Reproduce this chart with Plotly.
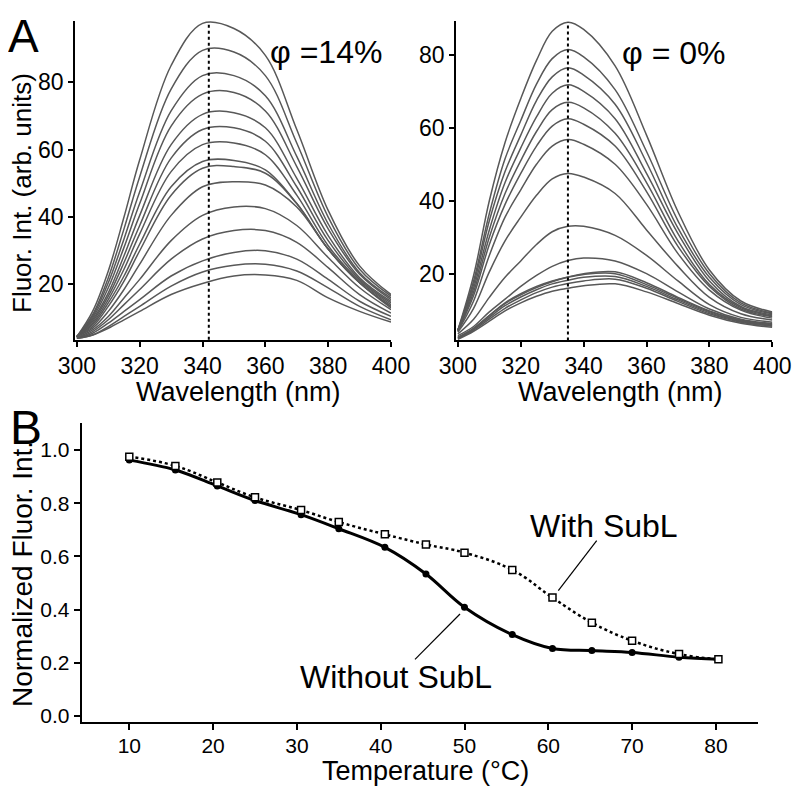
import plotly.graph_objects as go

FONT = "Liberation Sans, Arial, Helvetica, sans-serif"
# The page body has an 8px margin: the figure occupies viewport pixels 8..800 x 8..788
OFF = 8
FW, FH = 792, 780

# ---------------- Panel A data ----------------
wl_left = [300, 305, 310, 315, 320, 330, 340, 350, 360, 370, 380, 390, 400]
spectra_left = [
    [4.5, 12, 24, 40, 57, 85, 97.5, 96, 88, 66, 42, 25.5, 17],
    [4.5, 11, 22, 36.5, 52, 78, 89.5, 89, 82, 62, 40, 24.5, 16.5],
    [4.5, 10.5, 20.5, 33.5, 47.5, 71.5, 82, 82, 76, 58, 38, 23.5, 16],
    [4.5, 10, 19, 31, 44, 67, 76.5, 77, 71.5, 55, 36.5, 23, 15.5],
    [4.5, 9.5, 17.5, 28.5, 40.5, 61.5, 70.5, 71, 66.5, 51.5, 34.5, 22, 15],
    [4.5, 9, 16.5, 26.5, 37.5, 57.5, 66, 66.5, 62.5, 49, 33, 21.5, 14.5],
    [4.5, 8.5, 15.5, 24.5, 35, 53.5, 61.5, 62, 58.5, 46.5, 31.5, 21, 14],
    [4.5, 8, 14.5, 22.5, 32, 49, 56.5, 56.8, 54, 44, 30.5, 20.5, 13.5],
    [4.5, 7.5, 13.5, 21, 30, 46.5, 54.5, 55, 53, 44, 30.5, 20.5, 13.5],
    [4.5, 7, 12, 18.5, 26, 40.5, 49, 50.5, 49.5, 43, 30.5, 20.5, 13],
    [4.2, 6.5, 10.5, 16, 21.5, 33, 40.5, 43, 42.5, 37.5, 28, 19, 12.5],
    [4, 6, 9.5, 14, 18.5, 27.5, 33.5, 36, 36, 32.5, 25, 17, 11.5],
    [4, 5.5, 8.5, 12, 15.5, 22.5, 27, 29.5, 30, 27.5, 21.5, 15, 10.5],
    [4, 5, 7.5, 10.5, 13.5, 19.5, 23.7, 25.7, 26, 24, 19, 13.5, 9.5],
    [4, 5, 7, 9.5, 12, 17, 20.3, 22.5, 22.8, 21.2, 16, 12, 8.8],
]
peak_wl_left = 342
peak_val_left = 98

wl_right = [300, 305, 310, 315, 320, 325, 330, 335, 340, 350, 360, 370, 380, 390, 400]
spectra_right = [
    [4.5, 19.5, 40, 56, 68, 78.5, 86.5, 89, 87, 77, 58, 37, 21, 12.5, 9.5],
    [4.5, 18, 36.5, 51.5, 62, 72, 79, 81.5, 79.5, 70.5, 53.5, 34.5, 20, 12, 9.2],
    [4.5, 17, 34.5, 48, 58, 67.5, 74, 76.5, 74.5, 66.5, 50.5, 32.5, 19, 11.5, 9],
    [4.5, 16, 32, 45, 54.5, 63, 69.5, 71.8, 70, 62.5, 47.5, 31, 18, 11, 8.7],
    [4.5, 15, 30, 42, 51, 59, 65, 67, 65.5, 58.5, 45, 29, 17, 10.7, 8.4],
    [4.3, 14, 28, 39, 47.5, 55, 60.5, 62.5, 61, 55, 42.5, 27.5, 16.5, 10.3, 8.2],
    [4.2, 12.5, 25, 35.5, 43, 50, 55, 56.8, 55.5, 50, 39, 25.5, 15.5, 10, 7.8],
    [4, 10.5, 20.5, 29, 35.5, 41.5, 46, 47.5, 46.5, 42, 32, 22, 13.5, 9, 7.3],
    [3.5, 7.5, 13.5, 19, 23.5, 28, 31.5, 33, 33, 30.5, 25, 18, 11.5, 8, 6.7],
    [3, 5.5, 9.5, 13, 16.5, 19.5, 22, 23.6, 24.3, 23.5, 20, 15, 10.3, 7.5, 6.3],
    [2.5, 5, 8.5, 12, 14.5, 16.5, 18, 19.1, 20, 20.5, 17.5, 13.5, 9.8, 7.3, 6.2],
    [2.5, 5, 8.5, 11.8, 14.2, 16.2, 17.8, 19, 19.8, 20, 17, 13.2, 9.6, 7.1, 6],
    [2.3, 4.8, 8, 11.2, 13.6, 15.6, 17.2, 18.2, 19, 19.2, 16.5, 12.8, 9.3, 6.9, 5.8],
    [2.2, 4.5, 7.5, 10.5, 12.8, 14.8, 16.3, 17.3, 18, 18.5, 16, 12.4, 9, 6.7, 5.6],
    [2, 4.2, 7, 9.8, 12, 13.8, 15.2, 16, 16.7, 17.2, 15, 11.8, 8.6, 6.4, 5.3],
]
peak_wl_right = 335
peak_val_right = 89

wl_ticks = [300, 320, 340, 360, 380, 400]
int_ticks_left = [20, 40, 60, 80]
int_ticks_right = [20, 40, 60, 80]

# ---------------- Panel B data ----------------
temperature = [10, 15.5, 20.5, 25, 30.5, 35, 40.5, 45.4, 50, 55.7, 60.5, 65.2, 70, 75.6, 80.3]
without_subl = [0.962, 0.925, 0.865, 0.81, 0.757, 0.704, 0.634, 0.534, 0.409, 0.306,
                0.254, 0.246, 0.239, 0.221, 0.213]
with_subl = [0.975, 0.94, 0.878, 0.822, 0.774, 0.729, 0.683, 0.645, 0.614, 0.549,
             0.445, 0.351, 0.283, 0.233, 0.213]
temp_ticks = [10, 20, 30, 40, 50, 60, 70, 80]
norm_ticks = [0.0, 0.2, 0.4, 0.6, 0.8, 1.0]


def px(x):
    return (x - OFF) / FW


def py(y):
    return 1 - (y - OFF) / FH


fig = go.Figure()
SPEC_COLOR = "rgb(88,88,88)"

for s in spectra_left:
    fig.add_trace(go.Scatter(x=wl_left, y=s, mode="lines", xaxis="x", yaxis="y",
                             line=dict(color=SPEC_COLOR, width=1.5, shape="spline", smoothing=1.0),
                             hoverinfo="skip", showlegend=False))
fig.add_trace(go.Scatter(x=[peak_wl_left, peak_wl_left], y=[0, peak_val_left], mode="lines",
                         xaxis="x", yaxis="y", line=dict(color="black", width=2, dash="dot"),
                         showlegend=False, hoverinfo="skip"))

for s in spectra_right:
    fig.add_trace(go.Scatter(x=wl_right, y=s, mode="lines", xaxis="x2", yaxis="y2",
                             line=dict(color=SPEC_COLOR, width=1.5, shape="spline", smoothing=1.0),
                             hoverinfo="skip", showlegend=False))
fig.add_trace(go.Scatter(x=[peak_wl_right, peak_wl_right], y=[0, peak_val_right], mode="lines",
                         xaxis="x2", yaxis="y2", line=dict(color="black", width=2, dash="dot"),
                         showlegend=False, hoverinfo="skip"))

# Panel B
fig.add_trace(go.Scatter(x=temperature, y=with_subl, mode="lines", xaxis="x3", yaxis="y3",
                         line=dict(color="black", width=2.5, dash="dot", shape="spline", smoothing=1.2),
                         showlegend=False, hoverinfo="skip"))
fig.add_trace(go.Scatter(x=temperature, y=without_subl, mode="lines", xaxis="x3", yaxis="y3",
                         line=dict(color="black", width=3, shape="spline", smoothing=1.0),
                         showlegend=False, hoverinfo="skip"))
fig.add_trace(go.Scatter(x=temperature, y=without_subl, mode="markers", xaxis="x3", yaxis="y3",
                         marker=dict(symbol="circle", size=7, color="black"),
                         showlegend=False))
fig.add_trace(go.Scatter(x=temperature, y=with_subl, mode="markers", xaxis="x3", yaxis="y3",
                         marker=dict(symbol="square", size=7, color="white",
                                     line=dict(color="black", width=1.5)),
                         showlegend=False))

axA = dict(showline=True, linecolor="black", linewidth=1.5, ticks="outside", ticklen=5,
           tickwidth=1.5, tickcolor="black", showgrid=False, zeroline=False, automargin=False,
           tickfont=dict(family=FONT, size=23, color="black"))
axB = dict(showline=True, linecolor="black", linewidth=2, ticks="outside", ticklen=6,
           tickwidth=2, tickcolor="black", showgrid=False, zeroline=False, automargin=False,
           tickfont=dict(family=FONT, size=21, color="black"))

yA_dom = [py(340), py(20.7)]
fig.update_layout(
    width=FW, height=FH, margin=dict(l=0, r=0, t=0, b=0, pad=0, autoexpand=False),
    paper_bgcolor="white", plot_bgcolor="white",
    showlegend=False,
    xaxis=dict(axA, domain=[px(75), px(391)], range=[299.4, 400], tickvals=wl_ticks, anchor="y"),
    yaxis=dict(axA, domain=yA_dom, range=[3.5, 98.3], tickvals=int_ticks_left, anchor="x"),
    xaxis2=dict(axA, domain=[px(456), px(772.3)], range=[299.4, 400], tickvals=wl_ticks, anchor="y2"),
    yaxis2=dict(axA, domain=yA_dom, range=[1.8, 89.4], tickvals=int_ticks_right, anchor="x2"),
    xaxis3=dict(axB, domain=[px(81.7), px(758.3)], range=[4.32, 85.06], tickvals=temp_ticks,
                ticklabelstandoff=-2, anchor="y3"),
    yaxis3=dict(axB, domain=[py(722), py(423.4)], range=[-0.0226, 1.1], tickvals=norm_ticks,
                tickformat=".1f", anchor="x3"),
)


def ann(text, x, y, size, xanchor="center", yanchor="middle", angle=0):
    fig.add_annotation(text=text, x=px(x), y=py(y), xref="paper", yref="paper",
                       xanchor=xanchor, yanchor=yanchor, showarrow=False, textangle=angle,
                       font=dict(family=FONT, size=size, color="black"))


ann("A", 6, 8, 46, xanchor="left", yanchor="top")
ann("B", 8, 427, 48, xanchor="left")
ann("φ =14%", 268, 52, 32, xanchor="left")
ann("φ = 0%", 620, 53, 32, xanchor="left")
ann("Fluor. Int. (arb. units)", 22, 193, 26, angle=-90)
ann("Wavelength (nm)", 238, 392, 27)
ann("Wavelength (nm)", 620, 392, 27)
ann("Normalized Fluor. Int.", 22, 574, 28, angle=-90)
ann("Temperature (°C)", 425, 788, 27, yanchor="bottom")
ann("With SubL", 604, 526, 32)
ann("Without SubL", 396, 677, 32)

# leader lines (paper coordinates)
fig.add_shape(type="line", xref="paper", yref="paper", x0=px(596.7), y0=py(540.7),
              x1=px(558.3), y1=py(590.7), line=dict(color="black", width=1.2))
fig.add_shape(type="line", xref="paper", yref="paper", x0=px(460), y0=py(614),
              x1=px(415), y1=py(659.3), line=dict(color="black", width=1.2))

fig.write_html("out.html")
